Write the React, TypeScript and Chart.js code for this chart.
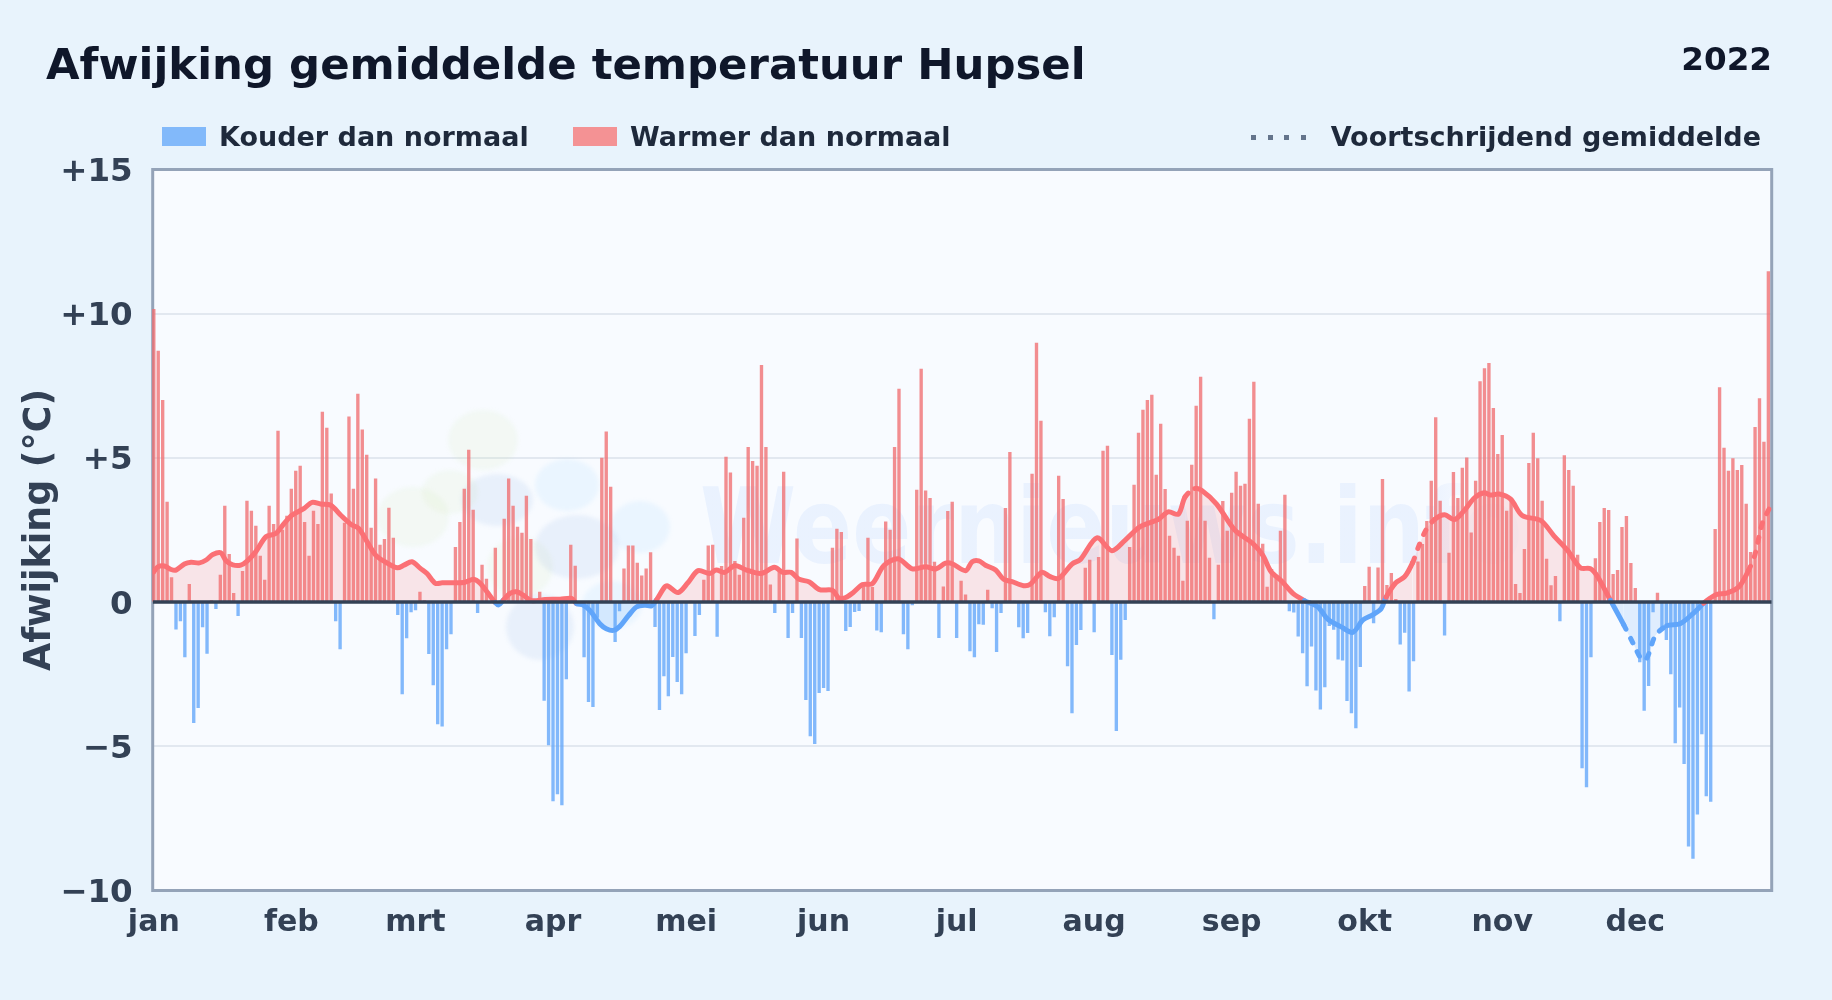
import React, { useEffect, useRef } from "react";
import { Chart, registerables } from "chart.js";

Chart.register(...registerables);

const FONT = "'DejaVu Sans', sans-serif";

const monthStarts = [0, 31, 59, 90, 120, 151, 181, 212, 243, 273, 304, 334];
const monthLabels = ["jan", "feb", "mrt", "apr", "mei", "jun", "jul", "aug", "sep", "okt", "nov", "dec"];
const yTicks = [-10, -5, 0, 5, 10, 15];

// Daily anomaly (deg C), day 0 = 1 January
const anomaly = [
  10.15, 8.7, 7.0, 3.47, 0.85, -0.94, -0.65, -1.9, 0.62, -4.18, -3.66, -0.86, -1.78, 0.05, -0.23,
  0.94, 3.33, 1.66, 0.3, -0.47, 1.07, 3.5, 3.16, 2.64, 1.6, 0.76, 3.33, 2.7, 5.93, 2.5,
  2.98, 3.92, 4.54, 4.72, 2.77, 1.6, 3.16, 2.7, 6.59, 6.03, 3.75, -0.65, -1.62, 2.74, 6.42,
  3.92, 7.21, 5.97, 5.1, 2.57, 4.27, 1.98, 2.18, 3.26, 2.22, -0.44, -3.18, -1.24, -0.34, -0.27,
  0.35, 0.05, -1.79, -2.87, -4.22, -4.3, -1.62, -1.1, 1.9, 2.77, 3.92, 5.27, 3.19, -0.37, 1.28,
  0.8, 0.02, 1.87, 0.02, 2.88, 4.27, 3.33, 2.6, 2.39, 3.68, 2.18, 0.02, 0.35, -3.41, -4.95,
  -6.89, -6.65, -7.03, -2.66, 1.98, 1.25, -0.05, -1.9, -3.45, -3.63, -0.53, 4.99, 5.9, 3.99, -1.37,
  -0.31, 1.15, 1.95, 1.95, 1.35, 0.91, 1.15, 1.72, -0.85, -3.73, -2.56, -3.25, -1.89, -2.76, -3.18,
  -1.76, 0.02, -1.16, -0.44, 0.76, 1.95, 1.98, -1.19, 1.24, 5.03, 4.48, 1.41, 0.94, 2.91, 5.37,
  4.88, 4.72, 8.21, 5.37, 0.6, -0.37, 1.06, 4.51, -1.23, -0.37, 2.19, -1.23, -3.38, -4.64, -4.91,
  -3.14, -2.97, -3.07, 1.87, 2.53, 2.42, -0.99, -0.85, -0.33, -0.3, 0.55, 2.22, 0.51, -0.97, -1.03,
  2.78, 2.5, 5.37, 7.39, -1.1, -1.62, -0.1, 3.88, 8.08, 3.86, 3.6, 1.39, -1.23, 0.53, 3.15,
  3.47, -1.23, 0.73, 0.25, -1.69, -1.9, -0.76, -0.77, 0.42, -0.2, -1.72, -0.37, 3.25, 5.19, 0.02,
  -0.86, -1.24, -1.06, 4.44, 8.98, 6.28, -0.34, -1.17, -0.51, 4.37, 3.56, -2.21, -3.84, -1.48, -0.96,
  1.18, 1.46, -1.03, 1.55, 5.24, 5.41, -1.82, -4.46, -1.99, -0.61, 1.9, 4.06, 5.86, 6.66, 7.0,
  7.18, 4.4, 6.17, 3.91, 2.29, 1.87, 1.6, 0.73, 2.81, 4.75, 6.8, 7.8, 2.81, 1.53, -0.58,
  1.28, 3.49, 2.46, 3.78, 4.51, 4.02, 4.09, 6.35, 7.63, 3.4, 2.01, 0.52, 1.14, 0.82, 2.46,
  3.71, -0.31, -0.35, -1.18, -1.76, -2.91, -1.53, -3.05, -3.71, -2.94, -0.82, -0.95, -1.98, -2.01, -3.42,
  -3.84, -4.36, -2.24, 0.55, 1.21, -0.72, 1.19, 4.26, 0.58, 1.0, 0.1, -1.46, -1.05, -3.09, -2.04,
  1.4, 2.0, 2.8, 4.2, 6.4, 3.5, -1.15, 1.7, 4.5, 3.6, 4.65, 5.0, 2.4, 4.2, 7.65,
  8.1, 8.28, 6.72, 5.12, 5.78, 3.16, 3.5, 0.62, 0.3, 1.83, 4.81, 5.86, 4.98, 3.5, 1.49,
  0.57, 0.89, -0.65, 5.08, 4.57, 4.02, 1.63, -5.75, -6.41, -1.9, 1.51, 2.77, 3.25, 3.18, 0.96,
  1.1, 2.59, 2.97, 1.34, 0.48, -2.07, -3.76, -2.9, -0.34, 0.31, -0.96, -1.3, -2.49, -4.88, -3.64,
  -5.6, -8.46, -8.89, -7.35, -4.57, -6.72, -6.91, 2.52, 7.44, 5.34, 4.54, 4.98, 4.57, 4.74, 3.4,
  1.73, 6.06, 7.06, 5.55, 11.46,
];

// Running mean
const runningDays = [
  0, 0.9, 2.4, 3.9, 5, 6.9, 8.4, 10.3, 11.8, 13.3, 15.1, 16.3, 17.8, 19.6, 21.1, 23, 25.3, 27.5, 29.4, 31.2,
  33.9, 35.7, 37.6, 39.9, 42.1, 44.4, 46.2, 48.1, 50, 52.2, 54.9, 56.4, 58.2, 60.1, 61.6, 63.5, 65, 67.6, 70.2, 72.1,
  73.6, 75.1, 77, 77.7, 78.8, 80.3, 81.8, 83.3, 85.2, 88.2, 91.6, 94.2, 95.3, 96.8, 98.3, 100.6, 102, 103.6, 105, 107,
  108.8, 110.7, 112.2, 113.3, 115.2, 115.9, 118.2, 120.4, 122.7, 125.3, 126.8, 128.7, 131, 133.5, 136.9, 139.9, 141.8, 143.7, 145.5, 147.8,
  150.1, 153, 154.5, 156, 157.5, 159.8, 162, 164.6, 167.8, 171, 174, 176.3, 178.5, 180, 183, 184.5, 186, 187.5, 189.8, 191.6,
  193.5, 196.1, 197.6, 200.2, 202.1, 204, 207, 208.9, 212.6, 216, 219, 222.3, 226.5, 228.7, 231, 232.5, 234.7, 236.2, 239.6, 243.7,
  247.8, 250, 251.9, 254.2, 256.8, 259.4, 262.4, 264.7, 267.7, 270.3, 272.6, 274.8, 276.7, 277.8, 280, 282, 283.8, 285, 286.8, 288.7,
  291, 293.2, 295.4, 297.7, 299.9, 301.4, 303.3, 305.9, 308.5, 312.7, 315.7, 318.7, 321.6, 323.9, 325.4, 328.4, 331.4, 333.6, 335.5, 336.6,
  338.5, 341.1, 344.1, 347, 349.4, 350.9, 352.4, 354.6, 357.3, 359.5, 361, 362.6, 364.4,
];
const runningMean = [
  1.05, 1.22, 1.25, 1.13, 1.11, 1.32, 1.38, 1.36, 1.46, 1.65, 1.71, 1.43, 1.29, 1.28, 1.43, 1.75, 2.27, 2.38, 2.73, 3.02,
  3.25, 3.46, 3.4, 3.36, 3.02, 2.7, 2.55, 2.09, 1.63, 1.39, 1.19, 1.28, 1.4, 1.17, 0.99, 0.65, 0.67, 0.67, 0.69, 0.79,
  0.65, 0.36, -0.02, -0.1, 0.07, 0.3, 0.36, 0.24, 0.05, 0.09, 0.1, 0.13, -0.05, -0.1, -0.29, -0.76, -0.92, -0.98, -0.85, -0.47,
  -0.17, -0.11, -0.13, 0.07, 0.53, 0.56, 0.33, 0.67, 1.09, 0.99, 1.11, 1.03, 1.27, 1.12, 0.99, 1.21, 1.03, 1.03, 0.79, 0.7,
  0.43, 0.41, 0.13, 0.16, 0.31, 0.61, 0.64, 1.27, 1.5, 1.15, 1.23, 1.15, 1.35, 1.33, 1.09, 1.4, 1.43, 1.28, 1.11, 0.79,
  0.71, 0.57, 0.62, 1.03, 0.88, 0.82, 1.32, 1.48, 2.23, 1.78, 2.15, 2.61, 2.87, 3.13, 3.05, 3.65, 3.94, 3.88, 3.4, 2.5,
  2.03, 1.63, 1.05, 0.74, 0.3, 0.05, -0.16, -0.6, -0.86, -1.05, -0.62, -0.44, -0.23, 0.17, 0.67, 0.88, 1.37, 1.87, 2.5, 2.86,
  3.03, 2.86, 3.17, 3.61, 3.79, 3.71, 3.75, 3.57, 3.0, 2.83, 2.29, 1.8, 1.19, 1.16, 0.91, 0.06, -0.79, -1.46, -2.0, -1.95,
  -1.17, -0.82, -0.75, -0.4, -0.04, 0.14, 0.27, 0.31, 0.52, 1.09, 1.66, 2.72, 3.3,
];

// Stretches (first day, last day) where the running mean is drawn dashed
const dashedFrom = [232, 252, 283, 329, 359];
const dashedTo = [233, 254, 287, 339, 365];

const TITLE = "Afwijking gemiddelde temperatuur Hupsel";
const YEAR = "2022";
const COLD = "Kouder dan normaal";
const WARM = "Warmer dan normaal";
const MEAN = "Voortschrijdend gemiddelde";
const Y_TITLE = "Afwijking (°C)";
const WATERMARK = "Weernieuws.info";

const X_MIN = -0.25;
const X_MAX = 364.75;
const days = anomaly.map((_, i) => i);
const warmPoints = days.filter((d) => anomaly[d] >= 0).map((d) => ({ x: d, y: anomaly[d] }));
const coldPoints = days.filter((d) => anomaly[d] < 0).map((d) => ({ x: d, y: anomaly[d] }));
const meanPoints = runningDays.map((d, i) => ({ x: d, y: runningMean[i] }));

const isDashed = (x: number) => dashedFrom.some((from, i) => x >= from && x < dashedTo[i]);

const backdrop = {
  id: "backdrop",
  beforeDraw(chart: any) {
    const { ctx, chartArea: a, width, height } = chart;
    ctx.save();
    ctx.fillStyle = "#e8f3fc";
    ctx.fillRect(0, 0, width, height);
    ctx.fillStyle = "#f8fbff";
    ctx.fillRect(a.left, a.top, a.right - a.left, a.bottom - a.top);
    ctx.restore();
  },
  beforeDatasetsDraw(chart: any) {
    const { ctx, chartArea: a } = chart;
    ctx.save();
    ctx.filter = "blur(2px)";
    const blob = (c: string, x: number, y: number, rx: number, ry: number) => {
      ctx.fillStyle = c;
      ctx.beginPath();
      ctx.ellipse(x, y, rx, ry, 0, 0, Math.PI * 2);
      ctx.fill();
    };
    const g = "rgba(205,230,170,0.13)";
    const b = "rgba(100,150,220,0.10)";
    const l = "rgba(96,190,250,0.09)";
    blob(g, 483, 440, 35, 30);
    blob(g, 413, 517, 36, 30);
    blob(g, 450, 492, 28, 22);
    blob(g, 520, 567, 33, 30);
    blob(b, 497, 500, 36, 26);
    blob(b, 577, 547, 42, 32);
    blob(b, 540, 627, 34, 33);
    blob(l, 567, 485, 32, 26);
    blob(l, 640, 527, 30, 26);
    blob(l, 612, 605, 30, 24);
    ctx.filter = "none";
    ctx.save();
    ctx.font = `bold 105px ${FONT}`;
    ctx.textBaseline = "alphabetic";
    ctx.translate(700, 563);
    ctx.scale(0.83, 1);
    const fade = ctx.createLinearGradient(0, 0, 1020, 0);
    fade.addColorStop(0, "rgba(59,130,246,0.075)");
    fade.addColorStop(0.86, "rgba(59,130,246,0.075)");
    fade.addColorStop(0.9, "rgba(59,130,246,0.025)");
    fade.addColorStop(1, "rgba(59,130,246,0.02)");
    ctx.fillStyle = fade;
    ctx.fillText(WATERMARK, 0, 0);
    ctx.restore();
    ctx.strokeStyle = "#94a3b8";
    ctx.lineWidth = 3;
    ctx.strokeRect(a.left, a.top, a.right - a.left, a.bottom - a.top);
    ctx.restore();
  },
};

export default function App() {
  const ref = useRef<HTMLCanvasElement>(null);

  useEffect(() => {
    document.body.style.margin = "0";
    document.body.style.background = "#e8f3fc";
    const chart = new Chart(ref.current as HTMLCanvasElement, {
      type: "bar",
      data: {
        datasets: [
          {
            type: "line",
            label: "Nul",
            data: [{ x: X_MIN, y: 0 }, { x: X_MAX, y: 0 }],
            borderColor: "#334155",
            borderWidth: 3.5,
            pointRadius: 0,
            order: 0,
          },
          {
            type: "line",
            label: MEAN,
            data: meanPoints,
            borderWidth: 5,
            borderCapStyle: "round",
            borderJoinStyle: "round",
            pointRadius: 0,
            tension: 0.3,
            fill: { target: "origin", above: "rgba(248,113,113,0.16)", below: "rgba(96,165,250,0.16)" },
            segment: {
              borderColor: (c: any) => (c.p0.parsed.y + c.p1.parsed.y >= 0 ? "#fb7075" : "#60a5fa"),
              borderDash: (c: any) => (isDashed(c.p0.parsed.x) ? [5, 10] : undefined),
            },
            order: 1,
          },
          { label: COLD, data: coldPoints, backgroundColor: "rgba(96,165,250,0.78)", barThickness: 2.7, grouped: false, clip: 1, order: 2 },
          { label: WARM, data: warmPoints, backgroundColor: "rgba(239,110,113,0.78)", barThickness: 2.7, grouped: false, clip: 1, order: 3 },
        ] as any,
      },
      options: {
        responsive: false,
        animation: false,
        devicePixelRatio: 1,
        layout: { padding: { top: 169.5, left: 0, right: 60.3, bottom: 0 } },
        plugins: { legend: { display: false }, tooltip: { enabled: false } },
        scales: {
          x: {
            type: "linear",
            offset: false,
            min: X_MIN,
            max: X_MAX,
            grid: { display: false },
            border: { display: false },
            afterBuildTicks: (s: any) => {
              s.ticks = monthStarts.map((v) => ({ value: v }));
            },
            afterFit: (s: any) => {
              s.height = 109.5;
            },
            ticks: {
              autoSkip: false,
              maxRotation: 0,
              padding: 7,
              color: "#334155",
              font: { family: FONT, weight: "bold", size: 30 },
              callback: (v: any) => monthLabels[monthStarts.indexOf(Number(v))],
            },
          },
          y: {
            min: -10,
            max: 15,
            afterBuildTicks: (s: any) => {
              s.ticks = yTicks.map((v) => ({ value: v }));
            },
            afterFit: (s: any) => {
              s.width = 152.7;
            },
            grid: { color: "#e2e8f0", lineWidth: 2, drawTicks: false },
            border: { display: false },
            title: {
              display: true,
              text: Y_TITLE,
              color: "#334155",
              font: { family: FONT, weight: "bold", size: 36.4 },
              padding: { top: 19, bottom: 0 },
            },
            ticks: {
              padding: 20,
              labelOffset: 3,
              color: "#334155",
              font: { family: FONT, weight: "bold", size: 32.5 },
              callback: (v: any) => {
                const n = Number(v);
                return n > 0 ? `+${n}` : n < 0 ? `\u2212${-n}` : "0";
              },
            },
          },
        },
      },
      plugins: [backdrop],
    } as any);
    return () => chart.destroy();
  }, []);

  const text = (style: React.CSSProperties, s: string) => (
    <div style={{ position: "absolute", whiteSpace: "nowrap", fontFamily: FONT, fontWeight: 700, ...style }}>{s}</div>
  );
  const swatch = (left: number, color: string) => (
    <div style={{ position: "absolute", left, top: 127, width: 44, height: 19, background: color }} />
  );

  return (
    <div style={{ position: "relative", width: 1832, height: 1000, overflow: "hidden", background: "#e8f3fc" }}>
      <canvas ref={ref} width={1832} height={1000} style={{ display: "block" }} />
      {text({ left: 46, top: 39, fontSize: 43.4, color: "#0f172a", lineHeight: "50px" }, TITLE)}
      {text({ right: 60, top: 41, fontSize: 32.6, color: "#0f172a", lineHeight: "36px" }, YEAR)}
      {swatch(162, "rgba(96,165,250,0.75)")}
      {text({ left: 219, top: 121, fontSize: 27, color: "#1e293b", lineHeight: "32px" }, COLD)}
      {swatch(573, "rgba(248,113,113,0.75)")}
      {text({ left: 630, top: 121, fontSize: 27, color: "#1e293b", lineHeight: "32px" }, WARM)}
      {[1251, 1268, 1284, 1301].map((left) => (
        <div key={left} style={{ position: "absolute", left, top: 134.5, width: 5, height: 5, background: "#64748b" }} />
      ))}
      {text({ right: 71, top: 121, fontSize: 27, color: "#1e293b", lineHeight: "32px" }, MEAN)}
    </div>
  );
}
